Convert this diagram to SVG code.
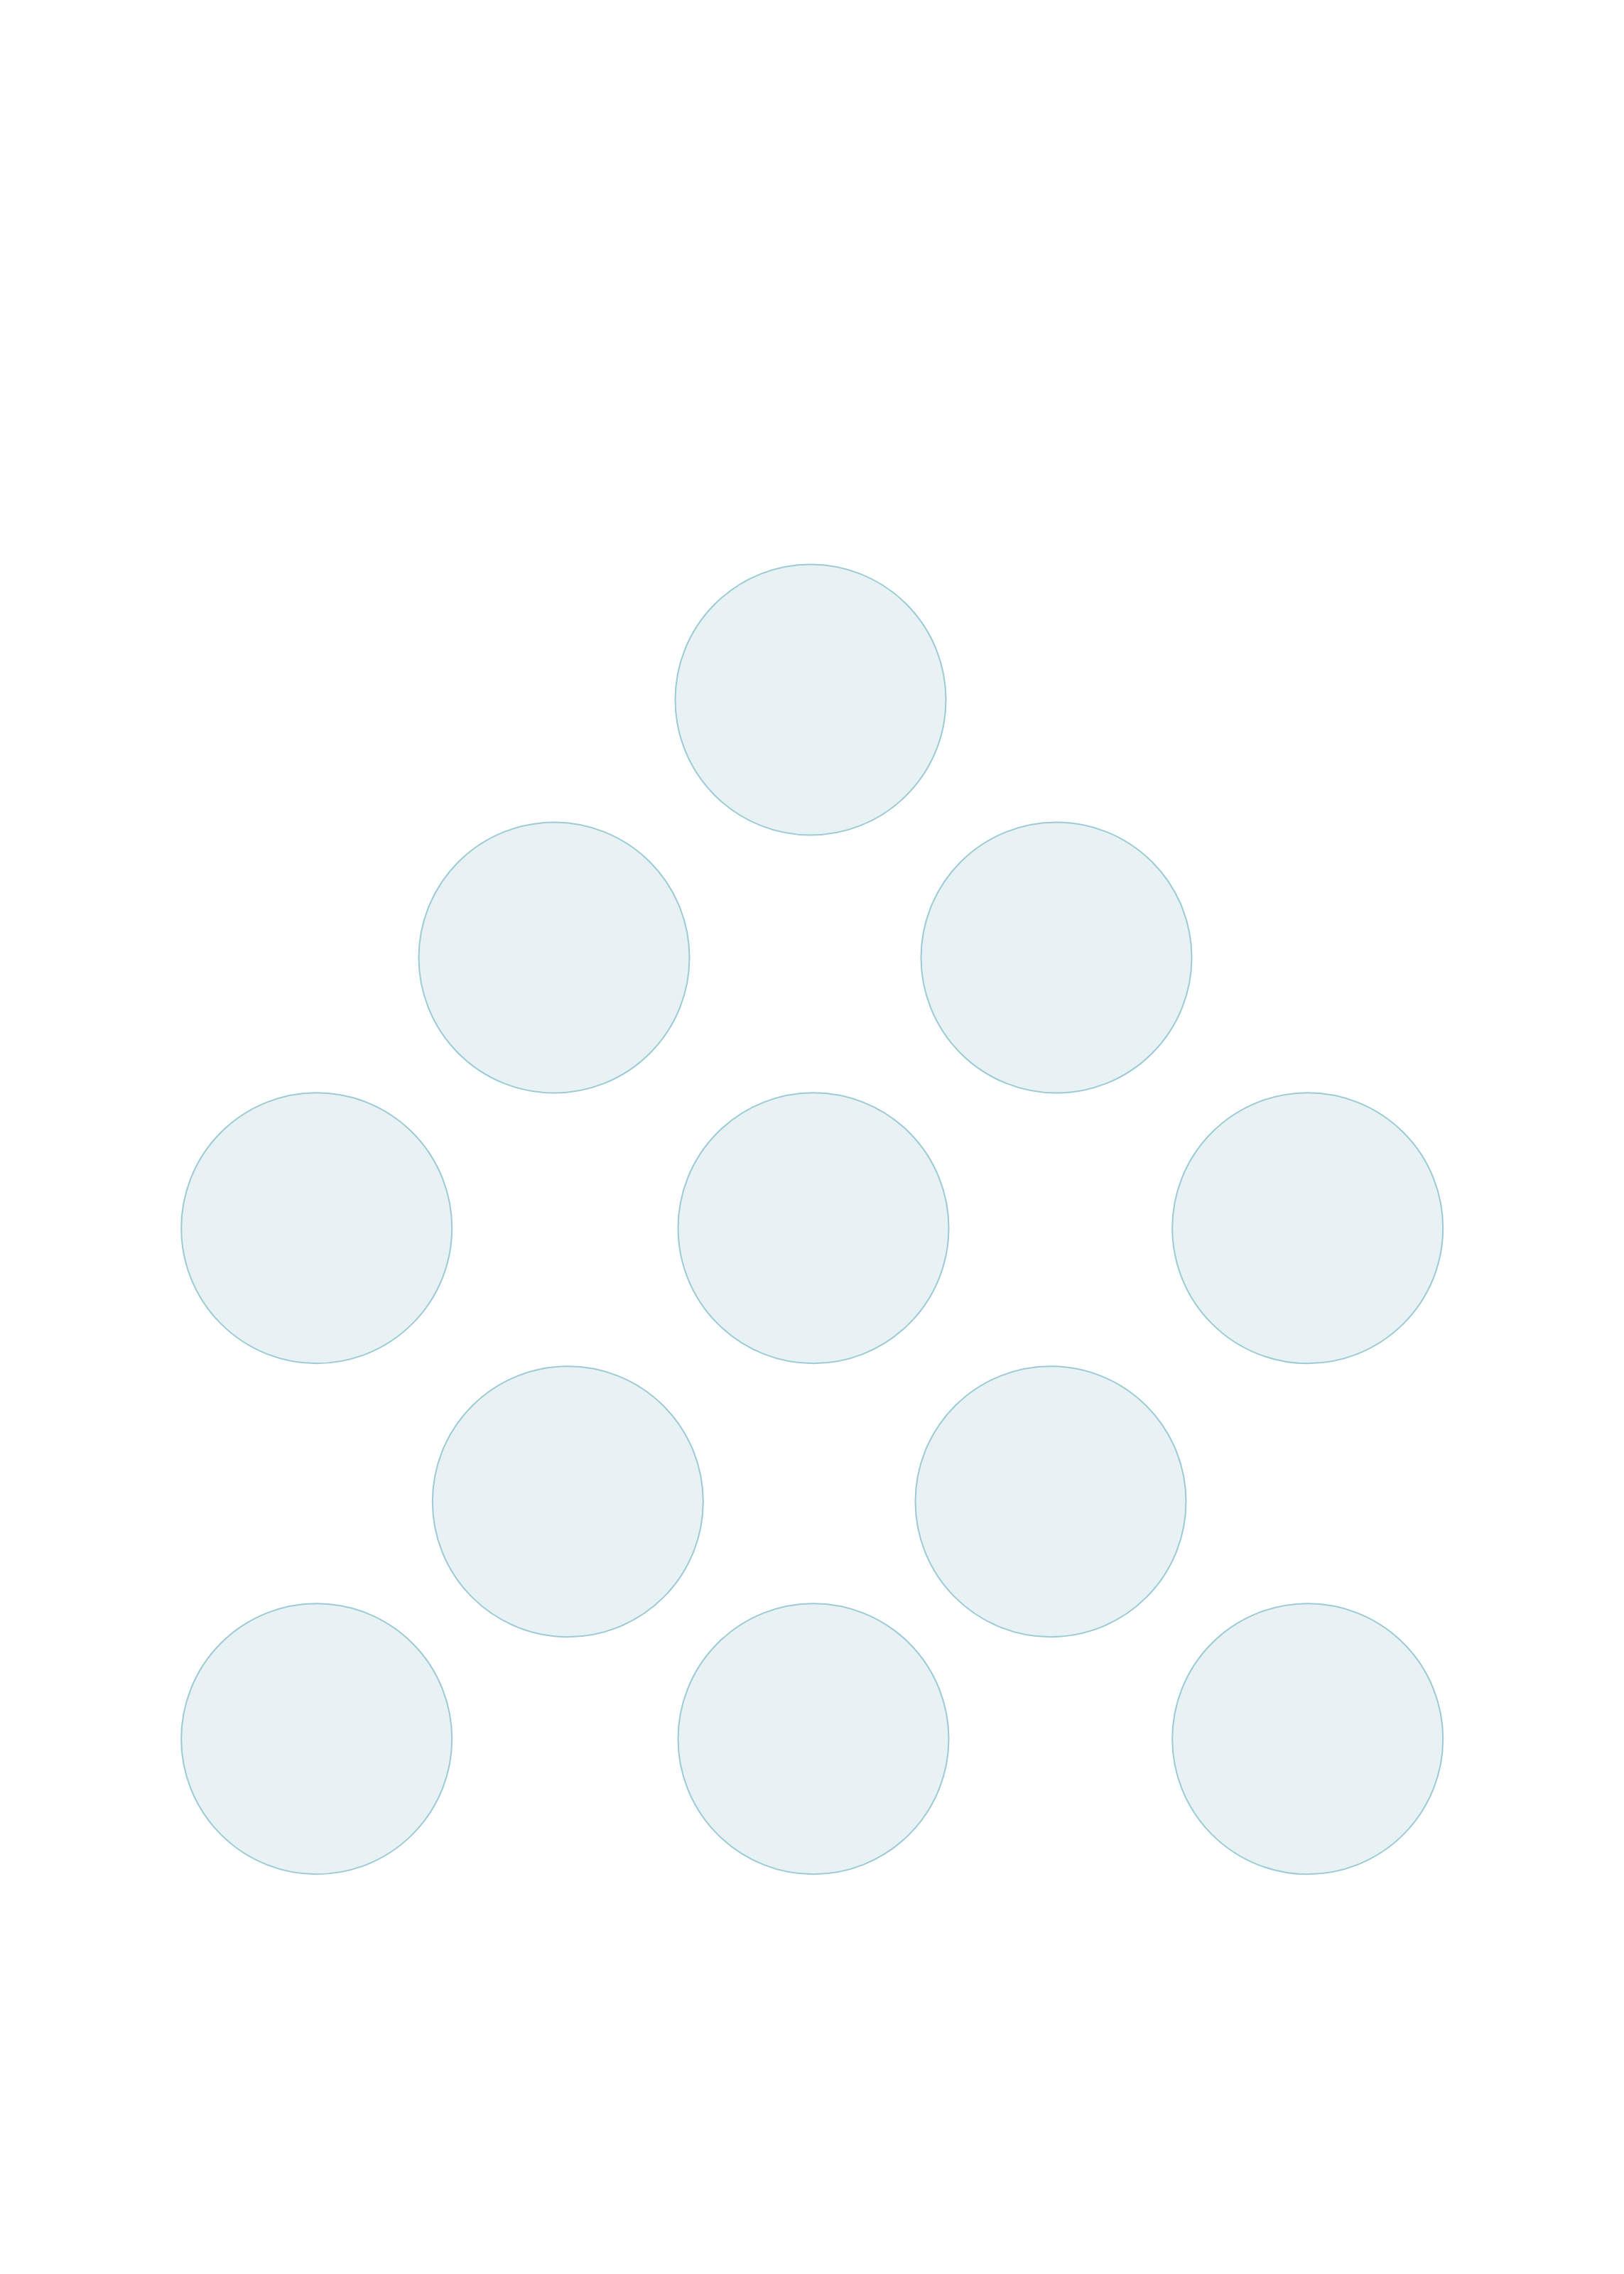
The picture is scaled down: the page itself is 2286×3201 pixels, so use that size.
<svg xmlns="http://www.w3.org/2000/svg" width="2286" height="3201" viewBox="0 0 2286 3201">
<style>
.n{fill:#e8f1f3;stroke:#9ccbd6;stroke-width:2}
</style>
<rect width="2286" height="3201" fill="#ffffff"/>
<g id="n1"><circle class="n" cx="1141" cy="985" r="190.5"/></g>
<g id="n2"><circle class="n" cx="780" cy="1348" r="190.5"/></g>
<g id="n3"><circle class="n" cx="1487" cy="1348" r="190.5"/></g>
<g id="n4"><circle class="n" cx="445.7" cy="1728.7" r="190.5"/></g>
<g id="n5"><circle class="n" cx="1145" cy="1728.7" r="190.5"/></g>
<g id="n6"><circle class="n" cx="1840.7" cy="1728.7" r="190.5"/></g>
<g id="n7"><circle class="n" cx="799.3" cy="2113.7" r="190.5"/></g>
<g id="n8"><circle class="n" cx="1479" cy="2113.7" r="190.5"/></g>
<g id="n9"><circle class="n" cx="445.7" cy="2447.7" r="190.5"/></g>
<g id="n10"><circle class="n" cx="1145" cy="2447.7" r="190.5"/></g>
<g id="n11"><circle class="n" cx="1840.7" cy="2447.7" r="190.5"/></g>
<g id="connectors"></g>
</svg>
